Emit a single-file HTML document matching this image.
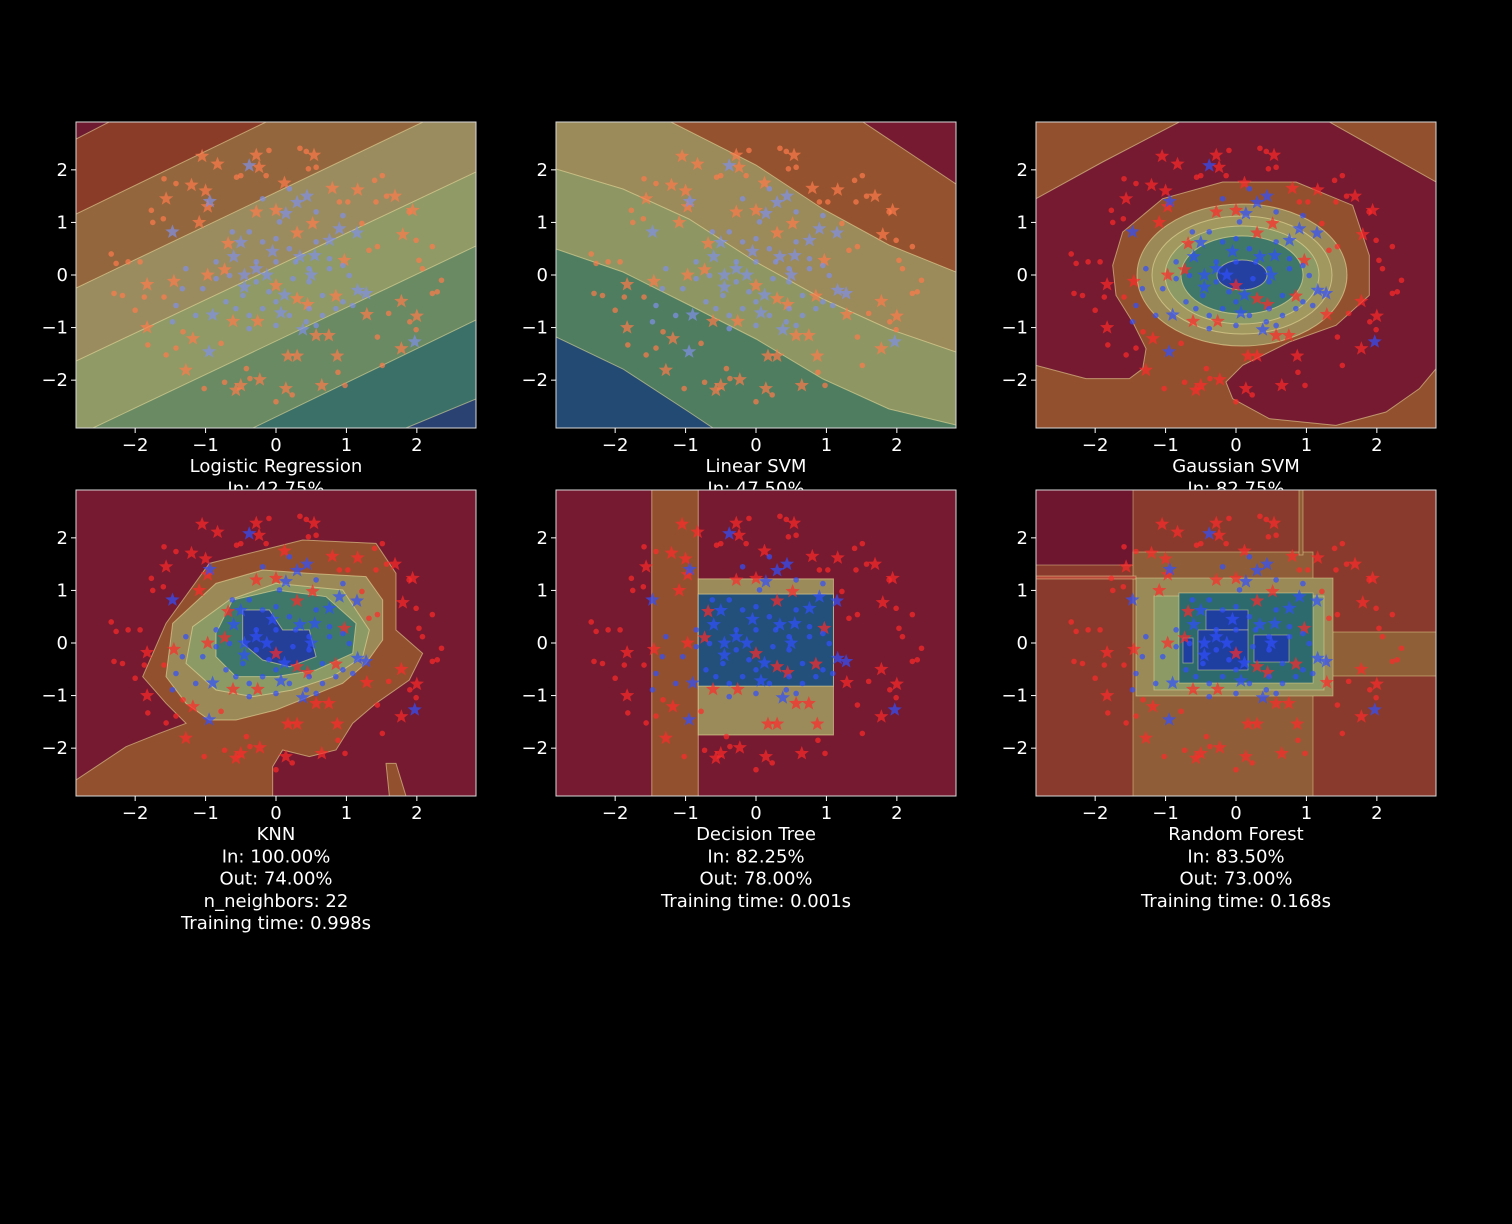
<!DOCTYPE html>
<html><head><meta charset="utf-8">
<style>
html,body{margin:0;padding:0;background:#000;}
svg{display:block;}
text{font-family:"DejaVu Sans","Liberation Sans",sans-serif;fill:#fff;}
</style></head>
<body>
<svg id="fig" width="1512" height="1224" viewBox="0 0 1512 1224" xmlns="http://www.w3.org/2000/svg">
<rect width="1512" height="1224" fill="#000"/>
</svg>
<script>
// ---- data (points of the concentric-circles dataset) ----
const X = [-1.05,-0.83,-0.28,-0.24,0.54,-1.2,-1.56,-1.0,-0.97,-1.09,0.12,0.8,1.16,1.69,1.94,1.8,-0.28,0.0,0.52,0.3,-0.68,-0.73,-0.97,-1.45,-1.83,-1.83,-1.18,-1.28,-0.57,-0.5,-0.23,0.14,0.65,0.87,0.17,0.3,0.57,0.75,1.29,1.78,2.0,1.78,0.97,0.85,0.45,0.3,0.0,-0.61,-0.26,
-0.38,-1.47,-0.94,0.3,0.44,0.14,0.9,1.15,-0.5,-0.6,-0.45,-0.05,0.5,0.34,0.55,-0.28,-0.13,0.12,-0.45,0.07,-0.9,-0.95,0.38,1.16,1.28,1.97,0.76,
-2.34,-2.27,-2.1,-1.93,-2.3,-2.18,-2.0,-1.87,-1.59,-1.59,-1.42,-1.75,-1.77,-1.6,-0.1,0.34,0.43,0.46,0.57,-0.56,-0.5,-0.14,1.4,1.51,1.42,1.57,1.89,1.99,2.22,2.03,2.08,2.35,2.22,2.29,1.99,1.6,1.44,1.51,1.9,0.98,0.88,0.0,0.23,-0.42,-0.37,-1.02,-0.73,-0.78,-1.42,-1.32,-1.82,-1.56,1.44,1.32,1.22,0.9,1.02,
-0.62,-0.38,-0.19,0.0,0.19,0.28,0.47,-0.28,-0.1,0.24,0.47,0.66,0.76,0.95,1.04,-0.47,-0.71,-0.57,-0.38,-0.19,0.0,0.19,0.47,0.66,0.85,0.95,0.0,-0.28,-0.66,-0.85,-1.04,-0.85,0.57,0.76,1.09,0.43,0.57,0.0,-0.38,-1.28,-1.14,-1.42,-1.47,-1.33,0.95,0.57,0.19,-0.19,0.05];
const Y = [2.26,2.11,2.28,2.05,2.28,1.71,1.45,1.6,1.3,1.0,1.75,1.65,1.62,1.5,1.23,0.77,1.2,1.23,0.98,0.8,0.6,0.1,0.0,-0.12,-0.18,-1.0,-1.21,-1.81,-2.19,-2.1,-1.99,-2.16,-2.1,-1.54,-1.54,-1.54,-1.15,-1.15,-0.75,-0.5,-0.78,-1.4,0.28,-0.4,-0.56,-0.45,-0.2,-0.88,-0.88,
2.08,0.82,1.4,1.38,1.5,1.17,0.88,0.8,0.62,0.35,0.0,0.45,0.0,0.35,0.37,0.12,0.0,-0.38,-0.23,-0.72,-0.76,-1.46,-1.04,-0.29,-0.35,-1.27,0.66,
0.4,0.22,0.25,0.25,-0.35,-0.39,-0.67,-0.42,-0.42,1.83,1.74,1.0,1.23,1.07,2.37,2.41,2.35,2.02,2.05,1.86,1.89,1.89,1.8,1.89,1.39,1.5,1.2,0.66,0.54,0.28,0.12,-0.1,-0.35,-0.32,-1.04,-0.73,-1.18,-1.72,-0.89,-2.1,-1.85,-2.41,-2.28,-1.78,-1.97,-2.16,-2.04,-1.3,-1.39,-1.08,-1.33,-1.52,0.54,0.47,0.98,1.39,1.39,
0.82,0.82,0.63,0.69,0.5,0.25,0.12,-0.13,-0.32,-0.07,-0.13,-0.39,0.12,0.18,-0.01,-0.39,-0.51,-0.64,-0.77,-0.64,-0.51,-0.77,-0.64,-0.77,-0.64,-0.51,0.25,0.25,-0.01,-0.07,-0.26,0.25,0.63,0.31,-0.58,-0.89,-0.96,-0.96,-1.02,0.12,-0.77,-0.58,-0.89,-0.26,1.13,1.2,1.64,1.45,1.01];
// class: 0 = outer ring, 1 = inner blob
const CLS = [].concat(Array(49).fill(0), Array(27).fill(1), Array(57).fill(0), Array(49).fill(1));
// marker: 1 = star (test), 0 = circle (train)
const MK = [].concat(Array(49).fill(1), Array(27).fill(1), Array(57).fill(0), Array(49).fill(0));
const TICKS = [-2,-1,0,1,2];
const TICK_LABELS = ["\u22122","\u22121","0","1","2"];
const TITLES = [
 ["Logistic Regression","In: 42.75%"],
 ["Linear SVM","In: 47.50%"],
 ["Gaussian SVM","In: 82.75%"],
 ["KNN","In: 100.00%","Out: 74.00%","n_neighbors: 22","Training time: 0.998s"],
 ["Decision Tree","In: 82.25%","Out: 78.00%","Training time: 0.001s"],
 ["Random Forest","In: 83.50%","Out: 73.00%","Training time: 0.168s"]
];
</script>
<script>
const NS="http://www.w3.org/2000/svg";
const svg=document.getElementById('fig');
const W=400,H=306, XMIN=-2.84, XMAX=2.84, YMIN=-2.91, YMAX=2.91;
const panels=[{L:76,T:122},{L:556,T:122},{L:1036,T:122},{L:76,T:490},{L:556,T:490},{L:1036,T:490}];
const slugs=['logistic-regression','linear-svm','gaussian-svm','knn','decision-tree','random-forest'];
function sx(x){return (x-XMIN)/(XMAX-XMIN)*W;}
function sy(y){return (YMAX-y)/(YMAX-YMIN)*H;}
function mk(tag,attrs,parent){const e=document.createElementNS(NS,tag);for(const k in attrs)e.setAttribute(k,attrs[k]);(parent||svg).appendChild(e);return e;}
const EDGE='rgba(240,225,160,0.55)';
function poly(g,pts,fill,name){const e=mk('polygon',{points:pts.map(p=>p.join(',')).join(' '),fill:fill,stroke:EDGE,'stroke-width':1},g);

return e;}
function zpoly(g,pts,fill,name){return poly(g,pts.map(p=>[p[0]/3,p[1]/3]),fill,name);}
function bandBelow(g,pts,fill,name){
 const a=pts[0],b=pts[1],n=pts.length,c=pts[n-2],d=pts[n-1];
 const s0=(b[1]-a[1])/((b[0]-a[0])||1), s1=(d[1]-c[1])/((d[0]-c[0])||1);
 const left=[-20,a[1]+s0*(-20-a[0])], right=[420,d[1]+s1*(420-d[0])];
 return poly(g,[left].concat(pts,[right,[420,330],[-20,330]]),fill,name);
}
function rectD(g,x0,x1,y0,y1,fill,name){const e=mk('rect',{x:sx(x0),y:sy(y1),width:sx(x1)-sx(x0),height:sy(y0)-sy(y1),fill:fill,stroke:EDGE,'stroke-width':1},g);

}
function rectL(g,x,y,w,h,fill,name){const e=mk('rect',{x:x,y:y,width:w,height:h,fill:fill,stroke:EDGE,'stroke-width':0.8},g);

}
function starPath(cx,cy,R){let d='';const r=R*0.42;for(let i=0;i<10;i++){const rr=i%2?r:R;const a=-Math.PI/2+i*Math.PI/5;d+=(i?'L':'M')+(cx+rr*Math.cos(a)).toFixed(1)+','+(cy+rr*Math.sin(a)).toFixed(1);}return d+'Z';}

panels.forEach((p,i)=>{
 const t=mk('text',{x:p.L+W/2,'text-anchor':'middle','font-size':18});
 
 
 TITLES[i].forEach((line,j)=>{const ts=mk('tspan',{x:p.L+W/2,y:p.T+H+44+j*22.3},t);ts.textContent=line;});
});

panels.forEach((p,i)=>{
 const g=mk('g',{transform:`translate(${p.L},${p.T})`});
 
 
 const cid='clip'+i; const cp=mk('clipPath',{id:cid},g); mk('rect',{x:0,y:0,width:W,height:H},cp);
 const bg=mk('g',{'clip-path':`url(#${cid})`},g);
 
 
 if(i===0){
  rectL(bg,0,0,W,H,'#6e1a30','region-base');
  const lines=[[[0,17],[33,0]],[[0,92],[190,0]],[[0,166],[347,0]],[[0,239],[400,50]],[[17,306],[400,124]],[[177,306],[400,198]],[[330,306],[400,277]]];
  const cols=['#8b3c29','#94663d','#9b8c60','#8f9a66','#6a8a63','#3b7068','#2a4272'];
  lines.forEach((l,k)=>bandBelow(bg,l,cols[k],'region-band-'+k));
 } else if(i===1){
  rectL(bg,0,0,W,H,'#751a30','region-base');
  const curves=[
   [[300,-5],[307,0],[400,62]],
   [[115,0],[200,43],[267,87],[333,123],[400,150]],
   [[0,47],[67,67],[133,97],[200,140],[267,177],[333,207],[400,230]],
   [[0,127],[67,150],[133,183],[200,217],[267,257],[333,287],[400,303]],
   [[0,215],[67,247],[133,290],[157,306]]];
  const cols=['#94522f','#9b8a5a','#8e9763','#4f7d60','#234a72'];
  curves.forEach((c,k)=>bandBelow(bg,c,cols[k],'region-band-'+k));
 } else if(i===2){
  rectL(bg,0,0,W,H,'#93502f','region-base');
  zpoly(bg,[[430,0],[880,0],[1200,180],[1200,740],[1150,800],[1050,870],[900,910],[700,890],[590,830],[570,780],[620,730],[760,660],[900,610],[1000,520],[1000,400],[950,250],[780,180],[560,180],[380,230],[260,330],[230,430],[240,520],[290,600],[330,680],[320,740],[280,770],[150,770],[0,730],[0,230],[200,120]],'#751a30','region-outer');
  [[105,71,'#9b8a58'],[90,59,'#a0985f'],[77,49,'#8c9a66'],[61,39,'#3f7868'],[25,15,'#2440a0']].forEach((e,k)=>{
   const el=mk('ellipse',{cx:206,cy:153,rx:e[0],ry:e[1],fill:e[2],stroke:EDGE,'stroke-width':1},bg);
   
   });
 } else if(i===3){
  rectL(bg,0,0,W,H,'#751a30','region-base');
  zpoly(bg,[[0,918],[0,870],[150,770],[250,730],[330,700],[270,640],[200,560],[270,400],[400,220],[560,180],[680,150],[900,160],[960,250],[960,420],[1040,490],[1000,570],[900,640],[830,700],[780,780],[700,800],[620,780],[590,830],[590,918]],'#93502f','region-brown');
  zpoly(bg,[[930,820],[960,820],[990,918],[940,918]],'#93502f','region-brown-strip');
  zpoly(bg,[[270,560],[290,400],[420,280],[560,240],[700,250],[870,260],[920,330],[920,450],[870,520],[800,580],[700,620],[600,660],[480,690],[400,690],[330,640]],'#9b8a58','region-tan');
  zpoly(bg,[[330,520],[350,410],[460,330],[600,280],[800,300],[880,420],[860,500],[770,560],[650,600],[530,620],[420,600]],'#8c9a66','region-olive');
  zpoly(bg,[[420,430],[470,330],[600,300],[750,320],[840,400],[830,490],[720,540],[600,560],[480,560],[420,500]],'#3f7868','region-green');
  zpoly(bg,[[500,360],[580,360],[620,420],[700,420],[720,500],[640,530],[560,510],[500,460]],'#243f98','region-blue');
 } else if(i===4){
  rectL(bg,0,0,W,H,'#751a30','region-base');
  rectD(bg,-1.48,-0.82,-3.2,3.2,'#93502f','region-split-strip');
  rectD(bg,-0.82,1.1,-1.75,1.22,'#9b8a5a','region-tan-box');
  rectD(bg,-0.82,1.1,-0.82,0.93,'#22507a','region-blue-box');
 } else {
  rectL(bg,0,0,W,H,'#8a3a2c','region-base');
  rectL(bg,0,0,97,75,'#6e1530','region-darkred-corner');
  rectL(bg,97,62,180,250,'#8f5e38','region-tan-brown');
  rectL(bg,277,142,130,44,'#8f6038','region-right-band');
  rectL(bg,0,86,100,3,'#b84a3c','region-line');
  rectL(bg,263,0,4,65,'#8f6038','region-vline');
  rectL(bg,100,88,197,118,'#9a8a58','region-tan');
  rectL(bg,118,106,170,94,'#8c9a66','region-olive');
  rectL(bg,143,103,134,90,'#2d6a6e','region-teal');
  rectL(bg,170,120,42,20,'#1f3fa0','region-blue-1');
  rectL(bg,162,140,50,40,'#1f3fa0','region-blue-2');
  rectL(bg,218,145,35,27,'#1f3fa0','region-blue-3');
  rectL(bg,147,148,10,25,'#1f3fa0','region-blue-4');
 }
 const pg=mk('g',{'clip-path':`url(#${cid})`},g);
 
 
 const red = i<2 ? '#ff7a4a' : '#ff2a2a';
 const blue = i<2 ? '#8090e8' : '#3050ff';
 for(let k=0;k<X.length;k++){
  const cx=sx(X[k]), cy=sy(Y[k]); const col=CLS[k]?blue:red;
  let e;
  if(MK[k]) e=mk('path',{d:starPath(cx,cy,7.5),fill:col,'fill-opacity':0.7},pg);
  else e=mk('circle',{cx:cx,cy:cy,r:2.8,fill:col,'fill-opacity':0.7},pg);
  
  
 }
 const fr=mk('rect',{x:0,y:0,width:W,height:H,fill:'none',stroke:'#d8d8d8','stroke-width':1},g);
 
 
 TICKS.forEach((t,k)=>{
  const x=sx(t), y=sy(t);
  mk('line',{x1:x,y1:H,x2:x,y2:H+5,stroke:'#fff','stroke-width':1},g);
  const tx=mk('text',{x:x,y:H+23,'text-anchor':'middle','font-size':18},g); tx.textContent=TICK_LABELS[k];
  
  
  mk('line',{x1:-5,y1:y,x2:0,y2:y,stroke:'#fff','stroke-width':1},g);
  const ty=mk('text',{x:-8,y:y+6,'text-anchor':'end','font-size':18},g); ty.textContent=TICK_LABELS[k];
  
  
 });
});
</script>
</body></html>
